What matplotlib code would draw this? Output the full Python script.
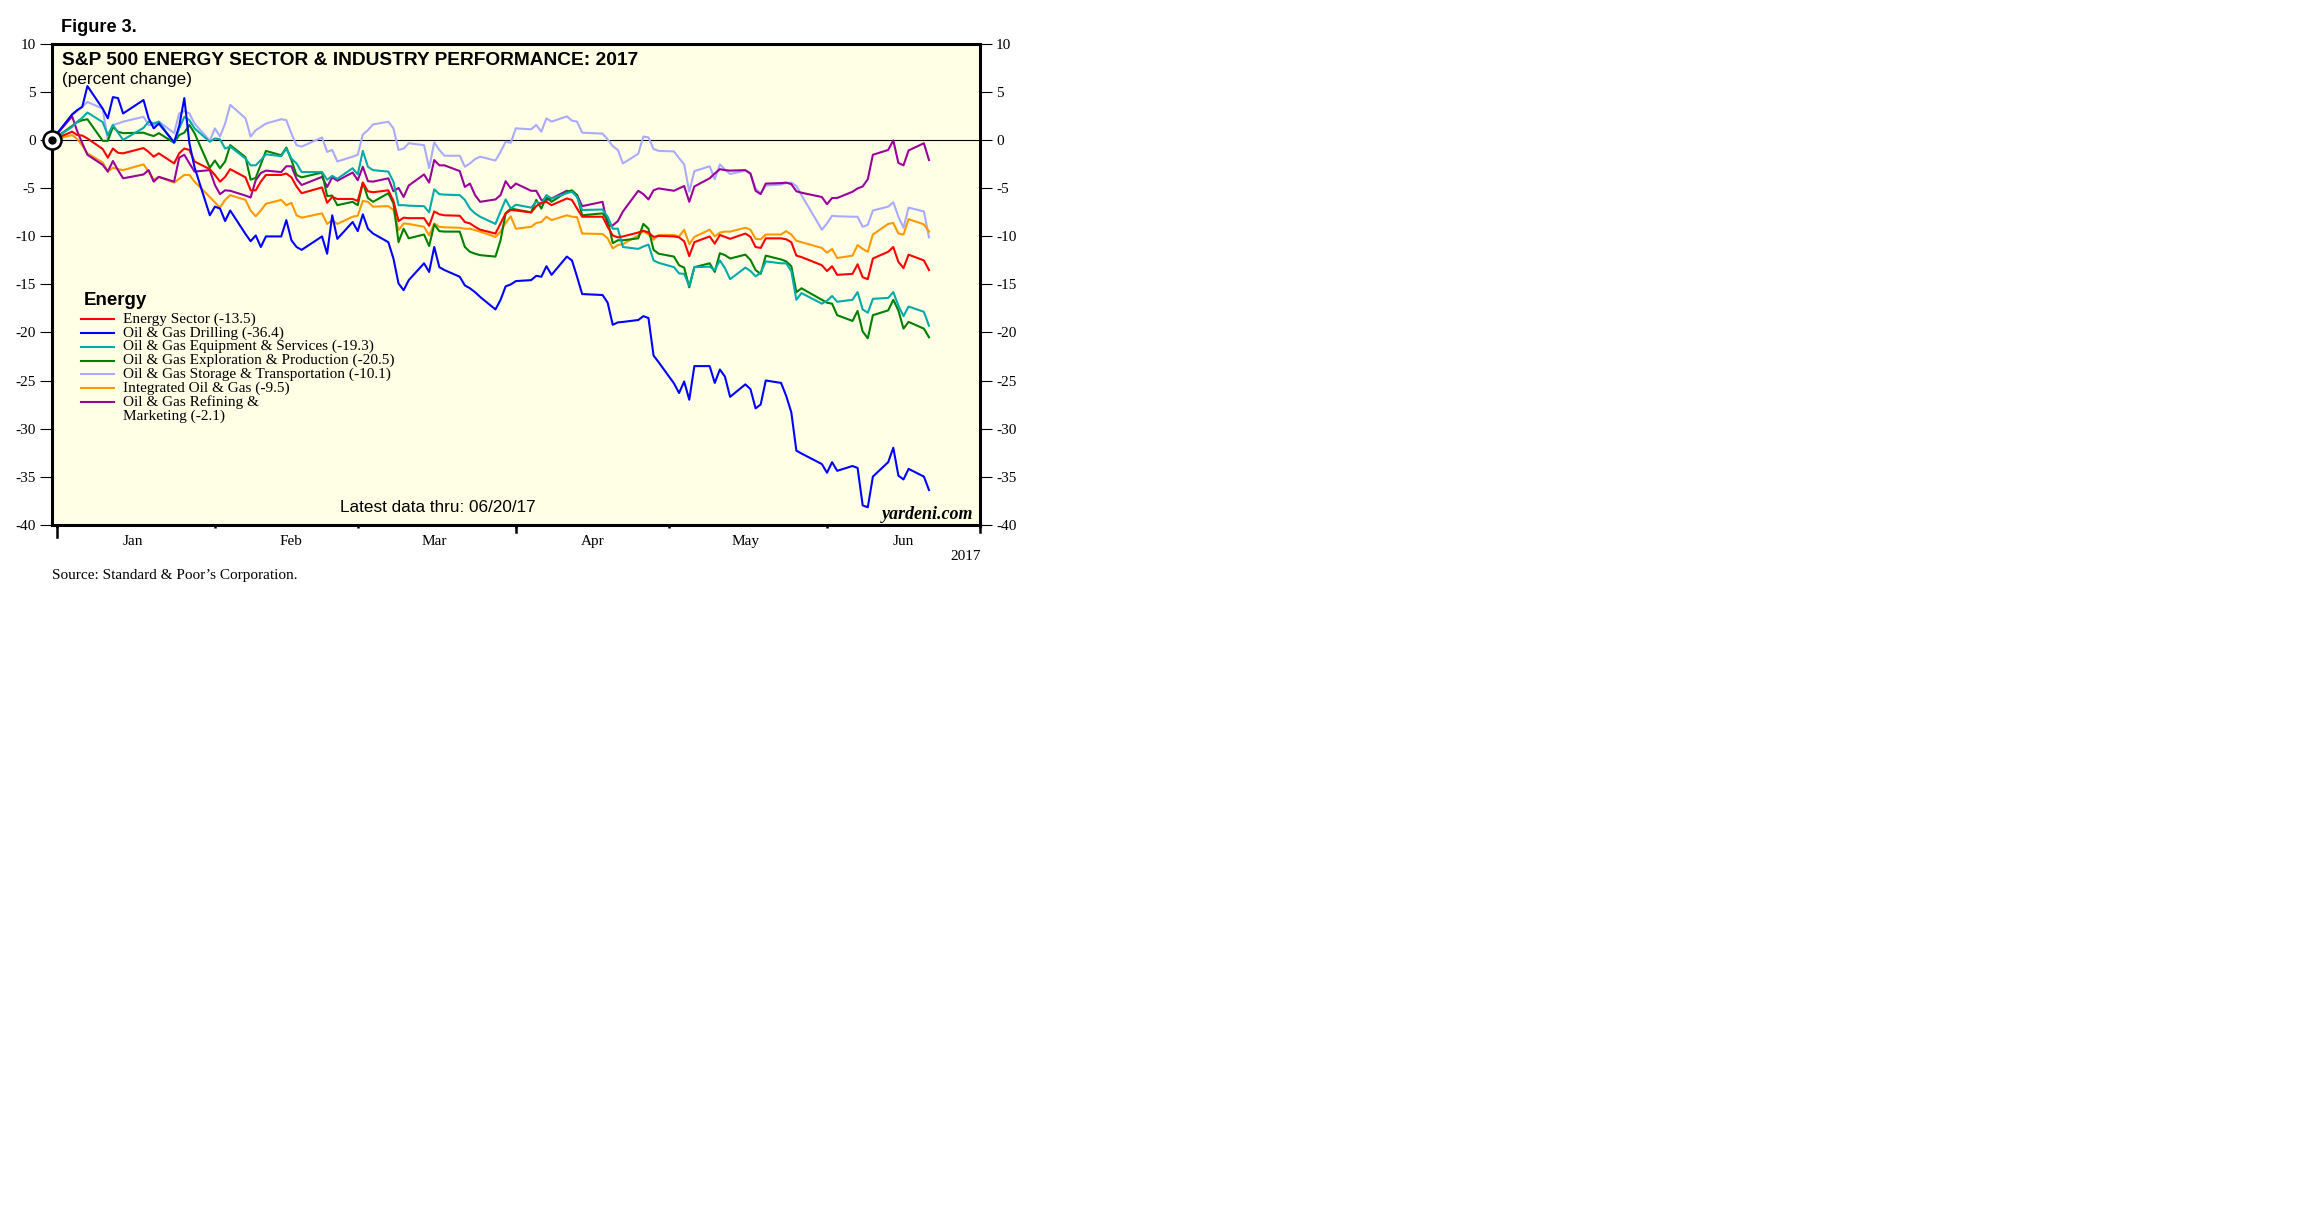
import matplotlib
matplotlib.use("Agg")
import matplotlib.dates as mdates
import matplotlib.pyplot as plt
import matplotlib.transforms as mtransforms
from matplotlib.lines import Line2D
import pandas as pd

W, H = 2304, 1228

# trading days, base = last close of 2016
HOLIDAYS = ["2017-01-02", "2017-01-16", "2017-02-20", "2017-04-14", "2017-05-29"]
DATES = pd.bdate_range("2016-12-30", "2017-06-20", freq="C", holidays=HOLIDAYS)

# percent change since 12/30/16, one row per month
energy_sector = [
    0.0,
    0.9, 0.55, 0.5, 0.2, -0.9, -1.8, -0.85, -1.3, -1.35, -0.8, -1.2, -1.7, -1.35, -2.4, -1.35, -0.85, -1.0, -2.2, -3.0, -3.6,
    -4.3, -3.8, -3.0, -3.85, -5.2, -5.2, -4.3, -3.6, -3.6, -3.45, -3.85, -4.8, -5.5, -4.9, -6.5, -5.9, -6.1, -6.1, -6.3,
    -4.4, -5.3, -5.4, -5.2, -6.3, -8.4, -8.05, -8.1, -8.1, -8.9, -7.4, -7.7, -7.8, -7.85, -8.5, -8.65, -9.0, -9.3, -9.7, -8.65, -7.6, -7.25, -7.3,
    -7.5, -6.85, -6.5, -6.4, -6.75, -6.05, -6.2, -7.1, -7.95, -7.95, -9.0, -9.9, -10.1, -10.0, -9.6, -9.4, -9.6, -10.05, -9.95,
    -10.0, -10.1, -10.5, -12.05, -10.6, -10.0, -10.75, -9.85, -10.05, -10.25, -9.7, -10.05, -11.1, -11.2, -10.2, -10.2, -10.3, -10.6, -12.0, -12.15, -13.0, -13.6,
    -13.1, -14.0, -13.9, -12.9, -14.25, -14.45, -12.3, -11.6, -11.1, -12.65, -13.3, -11.9, -12.5, -13.5,
]
oil_gas_drilling = [
    0.0,
    2.7, 3.15, 3.5, 5.65, 3.3, 2.3, 4.5, 4.4, 2.8, 4.2, 2.3, 1.25, 1.75, -0.2, 1.5, 4.4, -0.3, -2.8, -7.8, -6.9,
    -7.1, -8.4, -7.3, -9.75, -10.5, -9.9, -11.1, -10.0, -10.0, -8.3, -10.4, -11.1, -11.4, -10.0, -11.8, -7.8, -10.25, -8.5, -9.45,
    -7.7, -9.2, -9.7, -10.6, -12.3, -14.9, -15.6, -14.55, -12.8, -13.7, -11.1, -13.2, -13.5, -14.2, -15.1, -15.4, -15.8, -16.3, -17.6, -16.6, -15.2, -15.0, -14.65,
    -14.55, -14.1, -14.2, -13.1, -14.0, -12.1, -12.5, -14.2, -16.0, -16.1, -16.9, -19.2, -18.95, -18.9, -18.7, -18.3, -18.5, -22.4, -23.1,
    -25.3, -26.3, -25.1, -27.0, -23.5, -23.5, -25.25, -23.85, -24.6, -26.7, -25.4, -25.9, -27.9, -27.5, -25.0, -25.25, -26.6, -28.3, -32.3, -32.6, -33.7, -34.6,
    -33.5, -34.4, -33.9, -34.1, -38.0, -38.2, -35.0, -33.5, -32.0, -34.9, -35.3, -34.2, -35.0, -36.4,
]
equipment_services = [
    0.0,
    1.4, 1.95, 2.35, 2.9, 1.9, 0.55, 1.6, 0.8, 0.05, 1.3, 1.95, 1.75, 1.95, -0.3, 1.25, 2.45, 2.1, 1.25, -0.15, 0.2,
    0.1, -0.85, -0.65, -1.9, -2.6, -2.6, -2.05, -1.45, -1.65, -0.85, -1.9, -2.4, -3.3, -3.3, -4.1, -3.7, -4.0, -2.9, -3.55,
    -1.1, -2.75, -3.1, -3.25, -4.3, -6.75, -6.75, -6.8, -6.85, -7.5, -5.1, -5.6, -5.65, -5.7, -6.2, -7.1, -7.6, -7.95, -8.7, -7.4, -6.15, -7.1, -6.7,
    -7.0, -6.4, -6.6, -5.7, -6.05, -5.5, -5.35, -5.9, -7.25, -7.2, -7.95, -9.2, -9.2, -11.1, -11.3, -11.05, -10.85, -12.5, -12.75,
    -13.2, -13.85, -13.9, -15.15, -13.2, -13.15, -13.5, -12.5, -13.3, -14.45, -13.25, -13.6, -14.15, -13.8, -12.6, -12.8, -12.8, -13.6, -16.6, -15.9, -17.0, -16.7,
    -16.2, -16.8, -16.6, -15.8, -17.6, -17.95, -16.5, -16.4, -15.8, -17.2, -18.3, -17.3, -17.85, -19.3,
]
exploration_production = [
    0.0,
    1.5, 1.9, 2.1, 2.2, -0.05, -0.05, 1.4, 0.9, 0.75, 0.8, 0.6, 0.45, 0.75, -0.25, 0.55, 0.8, 1.6, 0.75, -2.85, -2.1,
    -2.9, -2.2, -0.5, -1.75, -4.1, -3.9, -2.5, -1.1, -1.55, -0.75, -2.05, -3.6, -3.85, -3.35, -5.8, -5.75, -6.75, -6.4, -6.75,
    -4.4, -6.0, -6.4, -5.5, -6.55, -10.6, -9.2, -10.2, -9.8, -11.0, -8.75, -9.45, -9.5, -9.5, -11.1, -11.6, -11.8, -11.95, -12.1, -10.4, -7.6, -7.1, -7.2,
    -7.5, -6.2, -7.1, -5.9, -6.4, -5.35, -5.2, -5.7, -7.8, -7.6, -8.3, -10.7, -10.4, -10.4, -10.2, -8.7, -9.2, -11.4, -11.8,
    -12.1, -13.0, -13.25, -15.3, -13.2, -12.8, -13.7, -11.75, -11.95, -12.3, -11.9, -12.45, -13.5, -13.9, -12.0, -12.4, -12.6, -13.1, -15.8, -15.4, -16.6, -16.9,
    -17.0, -18.2, -18.8, -17.75, -19.9, -20.6, -18.2, -17.7, -16.6, -17.7, -19.6, -18.9, -19.6, -20.5,
]
storage_transportation = [
    0.0,
    2.65, 3.05, 3.5, 4.0, 3.3, 0.05, 1.6, 1.75, 1.95, 2.45, 1.6, 1.6, 1.95, 0.75, 2.8, 3.05, 2.8, 1.75, -0.05, 1.25,
    0.4, 1.75, 3.7, 2.3, 0.4, 1.05, 1.4, 1.75, 2.2, 2.1, 0.7, -0.5, -0.65, 0.3, -1.2, -1.0, -2.2, -1.7, -1.5,
    0.6, 1.07, 1.66, 1.94, 1.25, -1.0, -0.85, -0.3, -0.5, -2.9, -0.2, -1.0, -1.6, -1.6, -2.75, -2.4, -1.95, -1.7, -2.1, -1.2, -0.15, -0.25, 1.25,
    1.15, 1.6, 0.9, 2.3, 1.95, 2.5, 2.05, 1.95, 0.8, 0.7, 0.1, -0.6, -1.0, -2.4, -1.4, 0.4, 0.3, -0.9, -1.1,
    -1.15, -1.85, -2.5, -5.35, -3.2, -2.7, -4.05, -2.5, -3.05, -3.5, -3.15, -3.5, -5.0, -5.5, -4.7, -4.6, -4.45, -4.4, -4.75, -5.7, -9.3, -8.65,
    -7.85, -7.9, -7.95, -7.95, -9.0, -8.8, -7.3, -6.9, -6.45, -7.95, -9.1, -7.0, -7.4, -10.1,
]
integrated_oil_gas = [
    0.0,
    0.55, 0.15, -0.55, -1.35, -2.3, -3.25, -2.85, -3.0, -3.1, -2.5, -3.25, -4.1, -3.8, -4.4, -4.0, -3.6, -3.6, -4.3, -5.9, -6.45,
    -7.0, -6.2, -5.7, -6.2, -7.3, -7.9, -7.3, -6.6, -6.2, -6.75, -6.5, -7.8, -8.05, -7.6, -8.7, -8.3, -8.7, -7.95, -7.85,
    -6.3, -6.4, -6.9, -6.85, -7.25, -9.35, -8.65, -8.7, -9.0, -9.9, -8.65, -9.0, -9.05, -9.1, -9.2, -9.2, -9.35, -9.5, -10.05, -9.5, -8.6, -7.9, -9.2,
    -9.0, -8.6, -8.5, -7.95, -8.3, -7.8, -7.95, -8.0, -9.7, -9.75, -10.2, -11.25, -10.9, -10.8, -9.9, -9.45, -9.8, -10.35, -9.85,
    -9.85, -10.0, -9.3, -10.8, -10.05, -9.3, -10.0, -9.6, -9.5, -9.5, -9.1, -9.3, -10.25, -10.3, -9.8, -9.8, -9.45, -9.8, -10.45, -10.6, -11.2, -11.7,
    -11.3, -12.25, -12.0, -10.9, -11.3, -11.6, -9.8, -8.7, -8.6, -9.7, -9.8, -8.2, -8.75, -9.5,
]
refining_marketing = [
    0.0,
    2.5, 0.95, -0.3, -1.5, -2.55, -3.25, -2.15, -3.1, -3.95, -3.55, -3.1, -4.3, -3.8, -4.3, -1.8, -1.5, -2.4, -3.25, -3.1, -4.65,
    -5.6, -5.2, -5.25, -5.75, -5.95, -4.15, -3.4, -3.15, -3.3, -2.7, -2.7, -4.0, -4.65, -3.8, -4.85, -3.85, -4.2, -3.35, -4.15,
    -2.75, -4.25, -4.3, -3.95, -5.3, -4.95, -5.9, -4.7, -3.55, -4.4, -2.05, -2.6, -2.6, -3.2, -4.85, -4.5, -5.7, -6.4, -6.15, -5.7, -4.25, -5.0, -4.5,
    -5.25, -5.25, -6.2, -6.2, -6.05, -5.25, -5.35, -5.7, -6.85, -6.4, -8.9, -8.85, -8.4, -7.4, -5.25, -5.6, -6.15, -5.2, -5.0,
    -5.25, -5.0, -4.75, -6.4, -4.8, -3.95, -3.45, -3.0, -3.1, -3.15, -3.1, -3.45, -5.25, -5.6, -4.5, -4.45, -4.4, -4.55, -5.3, -5.45, -5.9, -6.65,
    -6.0, -6.0, -5.35, -5.0, -4.8, -4.05, -1.5, -1.0, 0.0, -2.35, -2.6, -1.05, -0.3, -2.05,
]

SERIES = [energy_sector, oil_gas_drilling, equipment_services, exploration_production,
          storage_transportation, integrated_oil_gas, refining_marketing]
LABELS = [
    "Energy Sector (-13.5)",
    "Oil & Gas Drilling (-36.4)",
    "Oil & Gas Equipment & Services (-19.3)",
    "Oil & Gas Exploration & Production (-20.5)",
    "Oil & Gas Storage & Transportation (-10.1)",
    "Integrated Oil & Gas (-9.5)",
    "Oil & Gas Refining &\nMarketing (-2.1)",
]
COLORS = ["#FF0000", "#0000FF", "#00AAAA", "#008000", "#AAAAFF", "#FF9900", "#990099"]
DRAW_ORDER = [4, 5, 6, 3, 2, 0, 1]

SANS = "Liberation Sans"
SERIF = "Liberation Serif"
plt.rcParams["font.family"] = SERIF
plt.rcParams["axes.unicode_minus"] = False


def fx(x):
    return x / W


def fy(y):
    return 1 - y / H


fig = plt.figure(figsize=(W / 100, H / 100), dpi=100)
ax = fig.add_axes([fx(51.7), fy(524.6), (980 - 51.7) / W, (524.6 - 44.3) / H])
ax.set_facecolor("#FFFFE6")
for spine in ax.spines.values():
    spine.set_linewidth(2.2)

for i in DRAW_ORDER:
    ax.plot(DATES, SERIES[i], color=COLORS[i], lw=1.5, zorder=3)
ax.axhline(0, color="black", lw=0.8, zorder=2)

# start-of-year marker on the left frame
ax.plot(DATES[0], 0, marker="o", ms=13, mfc="white", mec="black", mew=1.8, clip_on=False, zorder=10)
ax.plot(DATES[0], 0, marker="o", ms=5, color="black", clip_on=False, zorder=11)

ax.set_xlim(pd.Timestamp("2016-12-30"), pd.Timestamp("2017-06-30"))
ax.set_ylim(-40, 10)
ax.set_yticks(range(-40, 11, 5))
ax.tick_params(axis="y", direction="out", length=8.6, width=0.8, pad=3, labelsize=11,
               left=True, right=True, labelleft=True, labelright=True)

# month boundaries as ticks, month names centred in between
ax.xaxis.set_major_locator(mdates.MonthLocator(bymonthday=-1))
ax.xaxis.set_major_formatter(plt.NullFormatter())
ax.xaxis.set_minor_locator(mdates.MonthLocator(bymonthday=15))
ax.xaxis.set_minor_formatter(mdates.DateFormatter("%b"))
ax.tick_params(axis="x", which="major", direction="out", length=2.2, width=1.8)
ax.tick_params(axis="x", which="minor", length=0, pad=7.5, labelsize=11)

trans = mtransforms.blended_transform_factory(ax.transData, ax.transAxes)
for day, depth in [("2016-12-31", 0.026), ("2017-03-31", 0.015), ("2017-06-30", 0.015)]:
    d = mdates.date2num(pd.Timestamp(day))
    ax.plot([d, d], [0, -depth], transform=trans, color="black", lw=1.8, clip_on=False)

# headings
fig.text(fx(61), fy(31.7), "Figure 3.", family=SANS, weight="bold", fontsize=13.1, va="baseline")
fig.text(fx(61.7), fy(65), "S&P 500 ENERGY SECTOR & INDUSTRY PERFORMANCE: 2017",
         family=SANS, weight="bold", fontsize=13.8, va="baseline")
fig.text(fx(62), fy(84), "(percent change)", family=SANS, fontsize=12.3, va="baseline")

# legend
fig.text(fx(83.3), fy(305), "Energy", family=SANS, weight="bold", fontsize=13.5, va="baseline")
row_y = 319
for label, color in zip(LABELS, COLORS):
    fig.add_artist(Line2D([fx(80.7), fx(114)], [fy(row_y), fy(row_y)], color=color, lw=1.5))
    for k, part in enumerate(label.split("\n")):
        fig.text(fx(123.3), fy(row_y + k * 14.5), part, fontsize=11, va="center")
    row_y += 13.85

fig.text(fx(340), fy(511.7), "Latest data thru: 06/20/17", family=SANS, fontsize=12.3, va="baseline")
fig.text(fx(973), fy(519.3), "yardeni.com", weight="bold", style="italic", fontsize=13,
         ha="right", va="baseline")
fig.text(fx(981), fy(556.7), "2017", fontsize=11, ha="right", va="center")
fig.text(fx(51.7), fy(576), "Source: Standard & Poor\u2019s Corporation.", fontsize=11, va="center")

fig.savefig("out.png", dpi=100)
